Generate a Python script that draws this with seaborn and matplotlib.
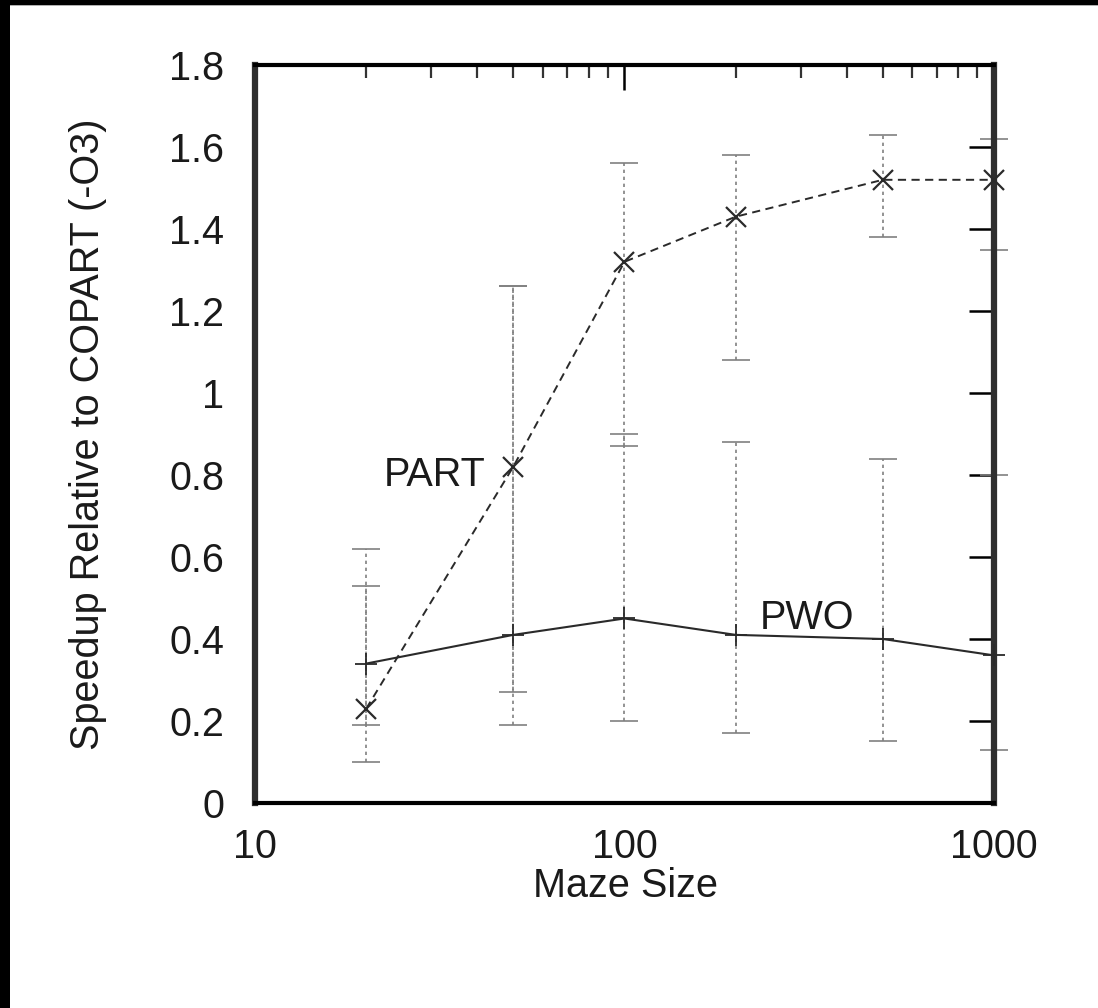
import matplotlib
matplotlib.use("Agg")
import matplotlib.pyplot as plt
from matplotlib.patches import Rectangle
from matplotlib.ticker import LogLocator, NullFormatter, FixedLocator, FixedFormatter
import seaborn as sns
import pandas as pd

# Maze sizes and measured speedups (mean with min/max range)
sizes = [20, 50, 100, 200, 500, 1000]
part_mean = [0.23, 0.82, 1.32, 1.43, 1.52, 1.52]
part_lo = [0.10, 0.27, 0.87, 1.08, 1.38, 1.35]
part_hi = [0.53, 1.26, 1.56, 1.58, 1.63, 1.62]
pwo_mean = [0.34, 0.41, 0.45, 0.41, 0.40, 0.36]
pwo_lo = [0.19, 0.19, 0.20, 0.17, 0.15, 0.13]
pwo_hi = [0.62, 1.26, 0.90, 0.88, 0.84, 0.80]

x_ticks = [10, 100, 1000]
x_tick_labels = ["10", "100", "1000"]
y_ticks = [0, 0.2, 0.4, 0.6, 0.8, 1.0, 1.2, 1.4, 1.6, 1.8]
y_tick_labels = ["0", "0.2", "0.4", "0.6", "0.8", "1", "1.2", "1.4", "1.6", "1.8"]

sns.set_theme(style="white")
plt.rcParams["font.family"] = ["Liberation Sans", "DejaVu Sans"]

FS = 28.5
ink = "#1a1a1a"

fig = plt.figure(figsize=(10.98, 10.08), dpi=100)
fig.patch.set_facecolor("white")
ax = fig.add_axes([0.2322, 0.2034, 0.6731, 0.7321])

df_part = pd.DataFrame({"size": sizes, "speedup": part_mean})
df_pwo = pd.DataFrame({"size": sizes, "speedup": pwo_mean})

# Error bars (dashed gray) for both series
for mean, lo, hi in [(part_mean, part_lo, part_hi), (pwo_mean, pwo_lo, pwo_hi)]:
    yerr = [[m - l for m, l in zip(mean, lo)], [h - m for m, h in zip(mean, hi)]]
    eb = ax.errorbar(sizes, mean, yerr=yerr, fmt="none", ecolor="#808080",
                     elinewidth=1.2, capsize=10, capthick=1.2, zorder=2)
    for c in eb[2]:
        c.set_linestyle((0, (2.0, 2.2)))
        c.set_clip_on(False)
    for c in eb[1]:
        c.set_clip_on(False)

sns.lineplot(data=df_part, x="size", y="speedup", ax=ax, color="#2a2a2a",
             linewidth=1.4, linestyle=(0, (4.2, 2.8)), marker="x",
             markersize=15, markeredgewidth=1.6, markeredgecolor="#2a2a2a",
             clip_on=False, zorder=3)
sns.lineplot(data=df_pwo, x="size", y="speedup", ax=ax, color="#2a2a2a",
             linewidth=1.5, linestyle="-", marker="+",
             markersize=16, markeredgewidth=1.3, markeredgecolor="#2a2a2a",
             clip_on=False, zorder=3)

ax.set_xscale("log")
ax.set_xlim(10, 1000)
ax.set_ylim(0, 1.8)

ax.xaxis.set_major_locator(FixedLocator(x_ticks))
ax.xaxis.set_major_formatter(FixedFormatter(x_tick_labels))
ax.xaxis.set_minor_locator(LogLocator(base=10, subs=range(2, 10)))
ax.xaxis.set_minor_formatter(NullFormatter())
ax.yaxis.set_major_locator(FixedLocator(y_ticks))
ax.yaxis.set_major_formatter(FixedFormatter(y_tick_labels))

ax.tick_params(axis="both", which="major", direction="in", length=18, width=1.8,
               color="black", labelsize=FS, labelcolor=ink,
               top=True, right=True)
ax.tick_params(axis="both", which="minor", direction="in", length=9, width=1.6,
               color="#333333", top=True, right=True)
ax.tick_params(axis="y", which="major", pad=22)
ax.tick_params(axis="x", which="major", pad=18)

for side in ["top", "bottom"]:
    ax.spines[side].set_linewidth(3.0)
    ax.spines[side].set_color("black")
for side in ["left", "right"]:
    ax.spines[side].set_linewidth(4.5)
    ax.spines[side].set_color("#2e2e2e")

ax.set_xlabel("Maze Size", fontsize=FS, color=ink)
ax.set_ylabel("Speedup Relative to COPART (-O3)", fontsize=FS, color=ink)
ax.xaxis.set_label_coords(0.5007, -0.1125)
ax.xaxis.label.set_va("center")
ax.yaxis.set_label_coords(-0.226, 0.5)
ax.yaxis.label.set_va("center")

ax.text(42, 0.80, "PART", fontsize=FS, color=ink, ha="right", va="center")
ax.text(232, 0.452, "PWO", fontsize=FS, color=ink, ha="left", va="center")

# Dark frame strips along the top and left edges
fig.patches.append(Rectangle((0, 1 - 5 / 1008), 1, 5 / 1008, transform=fig.transFigure,
                             facecolor="black", edgecolor="none", zorder=10))
fig.patches.append(Rectangle((0, 1 - 6 / 1008), 1, 1 / 1008, transform=fig.transFigure,
                             facecolor="#b0b0b0", edgecolor="none", zorder=9))
fig.patches.append(Rectangle((0, 0), 10 / 1098, 1, transform=fig.transFigure,
                             facecolor="black", edgecolor="none", zorder=10))

fig.savefig("out.png", dpi=100, facecolor="white")
